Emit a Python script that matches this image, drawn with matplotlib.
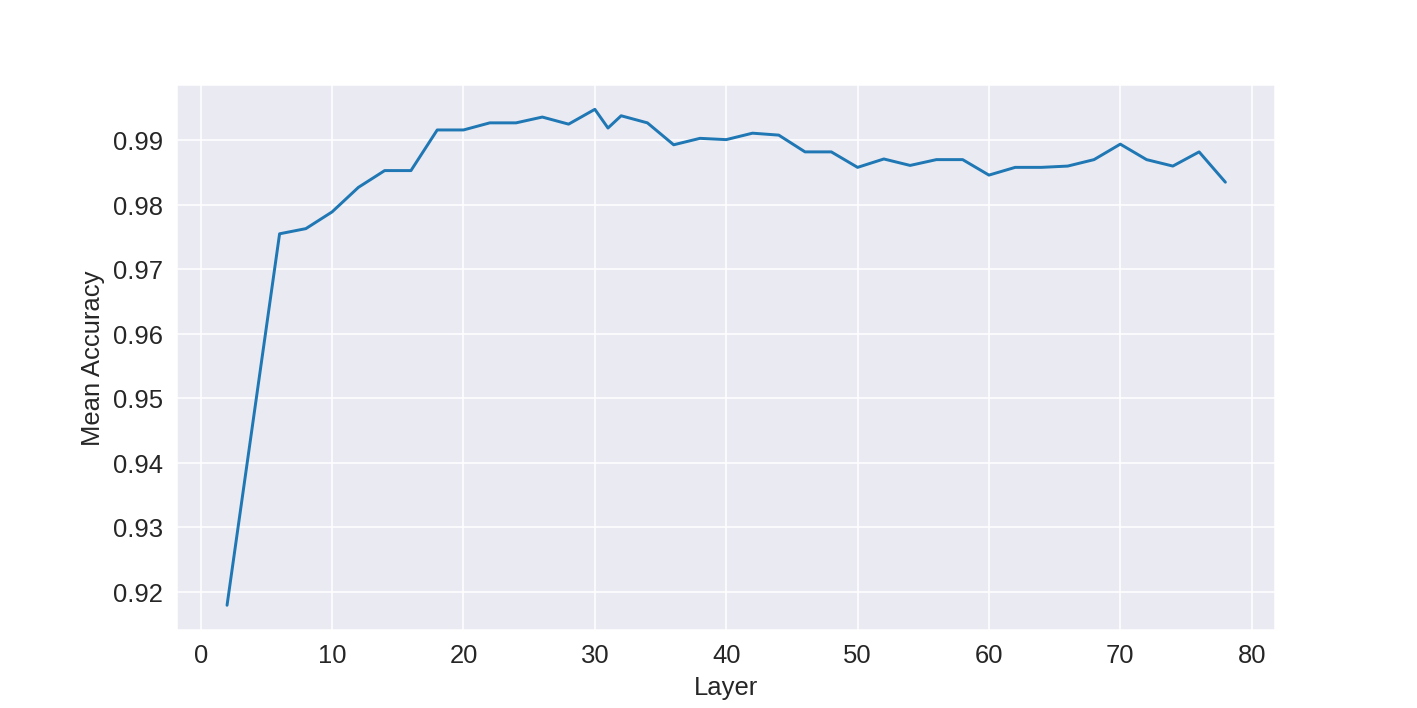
import matplotlib
matplotlib.use("Agg")
import matplotlib.pyplot as plt
import seaborn as sns

layers = [2, 4, 6, 8, 10, 12, 14, 16, 18, 20, 22, 24, 26, 28, 30, 31, 32, 34,
          36, 38, 40, 42, 44, 46, 48, 50, 52, 54, 56, 58, 60, 62, 64, 66, 68,
          70, 72, 74, 76, 78]
mean_acc = [0.9179, 0.9467, 0.9755, 0.9763, 0.9789, 0.9827, 0.9853, 0.9853,
            0.9916, 0.9916, 0.9927, 0.9927, 0.9936, 0.9925, 0.9948, 0.9919,
            0.9938, 0.9927, 0.9893, 0.9903, 0.9901, 0.9911, 0.9908, 0.9882,
            0.9882, 0.9858, 0.9871, 0.9861, 0.9870, 0.9870, 0.9846, 0.9858,
            0.9858, 0.9860, 0.9870, 0.9894, 0.9870, 0.9860, 0.9882, 0.9835]

sns.set_style("darkgrid")
plt.rcParams['font.family'] = ['Liberation Sans', 'DejaVu Sans']

fig, ax = plt.subplots(figsize=(10, 5), dpi=141.7)
ax.plot(layers, mean_acc, color="#1f77b4")
ax.set_xlabel("Layer", fontsize=13)
ax.set_ylabel("Mean Accuracy", fontsize=13)
ax.tick_params(labelsize=13)
fig.savefig("out.png")
